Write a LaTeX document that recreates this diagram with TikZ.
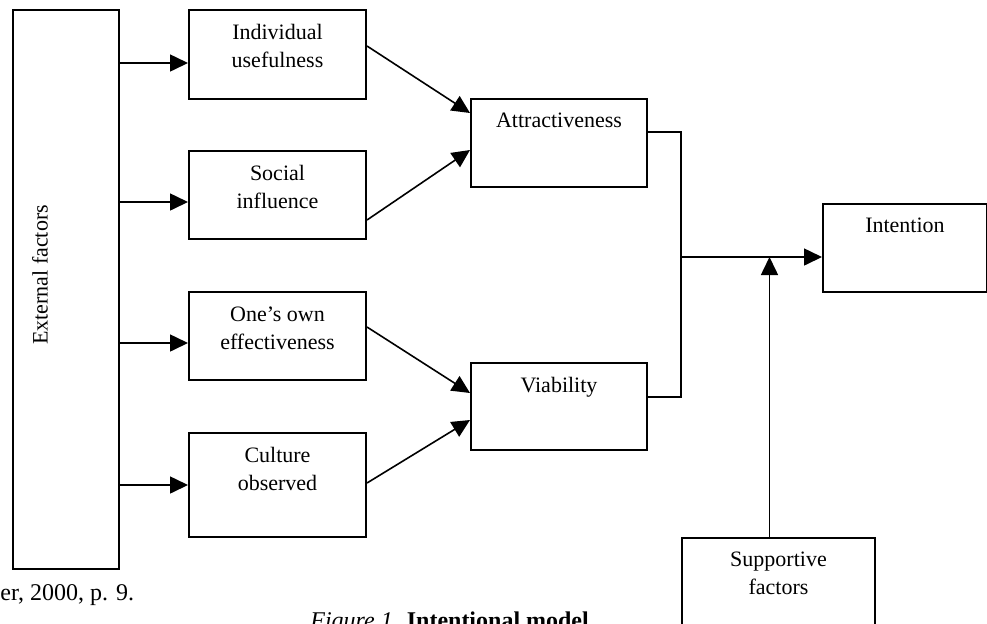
\documentclass[tikz,border=0pt]{standalone}
\usepackage{fontspec}
\setmainfont{Liberation Serif}
\usetikzlibrary{arrows.meta}

\tikzset{
	block/.style={draw, line width=1pt, inner sep=0pt, anchor=north west},
	lbl/.style={anchor=north, inner sep=0pt, yshift=-7.5pt, align=center, font=\fontsize{11}{14}\selectfont},
	arr/.style={line width=0.8pt, -{Triangle[length=9pt,width=8.5pt]}},
	conn/.style={line width=0.8pt}
}

\begin{document}
\begin{tikzpicture}[x=0.5pt, y=-0.5pt]
	\useasboundingbox (0,0) rectangle (987,623);

	% left column
	\node [block, minimum width=53pt, minimum height=279.5pt] (ext) at (12,9) {};
	\node [rotate=90, inner sep=0pt, font=\fontsize{11}{14}\selectfont] (exttxt) at (40,275) {External factors};

	\node [block, minimum width=88.5pt, minimum height=44.5pt, label={[lbl]north:Individual\\usefulness}] (ind) at (188,9) {};
	\node [block, minimum width=88.5pt, minimum height=44pt, label={[lbl]north:Social\\influence}] (soc) at (188,150) {};
	\node [block, minimum width=88.5pt, minimum height=44pt, label={[lbl]north:One’s own\\effectiveness}] (own) at (188,291) {};
	\node [block, minimum width=88.5pt, minimum height=52pt, label={[lbl]north:Culture\\observed}] (cul) at (188,432) {};

	% middle and right
	\node [block, minimum width=88pt, minimum height=44pt, label={[lbl]north:Attractiveness}] (att) at (470,98) {};
	\node [block, minimum width=88pt, minimum height=43.5pt, label={[lbl]north:Viability}] (via) at (470,362) {};
	\node [block, minimum width=82pt, minimum height=44pt, label={[lbl]north:Intention}] (int) at (822,203) {};
	\node [block, minimum width=96.5pt, minimum height=65pt, label={[lbl]north:Supportive\\factors}] (sup) at (681,537) {};

	\coordinate (join) at (681,257);

	\draw [arr] (ext.east |- 0,63) -- (ind.west |- 0,63);
	\draw [arr] (ext.east |- 0,202) -- (soc.west |- 0,202);
	\draw [arr] (ext.east |- 0,343) -- (own.west |- 0,343);
	\draw [arr] (ext.east |- 0,485) -- (cul.west |- 0,485);

	\draw [arr] (ind.east |- 0,46) -- (att.west |- 0,113);
	\draw [arr] (soc.east |- 0,220) -- (att.west |- 0,150);
	\draw [arr] (own.east |- 0,327) -- (via.west |- 0,393);
	\draw [arr] (cul.east |- 0,483) -- (via.west |- 0,420);

	\draw [conn] (att.east |- 0,132) -| (join);
	\draw [conn] (via.east |- 0,397) -| (join);
	\draw [arr] (join) -- (int.west |- join);
	\draw [arr] ([xshift=-4.5pt]sup.north) -- ([xshift=-4.5pt]sup.north |- join);

	% captions, cut off by the page
	\node [anchor=base west, inner sep=0pt, font=\fontsize{12}{14}\selectfont] (src) at (0,600) {er, 2000, p. 9.};
	\node [anchor=base west, inner sep=0pt, font=\fontsize{12}{14}\selectfont] (cap) at (310,628) {\textit{Figure 1.} \textbf{Intentional model}};
\end{tikzpicture}
\end{document}
